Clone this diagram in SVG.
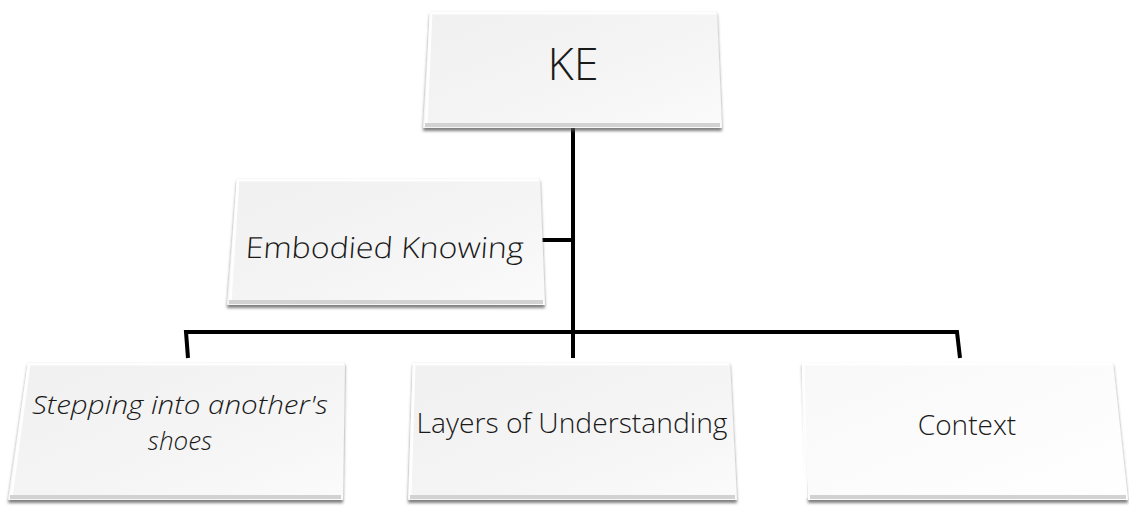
<svg xmlns="http://www.w3.org/2000/svg" width="1129" height="507" viewBox="0 0 1129 507">
<defs>
<linearGradient id="boxFill" x1="0" y1="0" x2="1" y2="1">
<stop offset="0" stop-color="#f0f0f0"/>
<stop offset="0.6" stop-color="#f5f5f5"/>
<stop offset="1" stop-color="#fbfbfb"/>
</linearGradient>
<linearGradient id="boxFillW" x1="0" y1="0" x2="1" y2="1">
<stop offset="0" stop-color="#f8f8f8"/>
<stop offset="1" stop-color="#ffffff"/>
</linearGradient>
<filter id="shadow" x="-5%" y="-5%" width="110%" height="120%">
<feDropShadow dx="0" dy="3" stdDeviation="1.6" flood-color="#555" flood-opacity="0.75"/>
</filter>
</defs>
<style>
.box{fill:url(#boxFill);filter:url(#shadow);}
.boxw{fill:url(#boxFillW);filter:url(#shadow);}
.bevel{fill:none;stroke:#ffffff;stroke-width:3;stroke-opacity:0.9;}
.bot{fill:none;stroke:#d2d2d2;stroke-width:4;}
.lbl{font-family:"Open Sans","Liberation Sans",sans-serif;font-weight:300;fill:#1a1a1a;text-anchor:middle;}
.conn{fill:none;stroke:#000;stroke-width:4;stroke-linejoin:miter;}
</style>
<rect width="1129" height="507" fill="#ffffff"/>
<g id="connectors">
<path class="conn" d="M573,128 V358"/>
<path class="conn" d="M540,240 H573"/>
<path class="conn" d="M188,358 L186,332 H957 L960,358"/>
</g>
<g id="node-ke">
<polygon class="box" points="430,11 717,11 722,128 423,128"/>
<polyline class="bevel" points="426,126 431,13 716,13"/>
<line class="bot" x1="425" y1="125" x2="720" y2="125"/>
<text class="lbl" x="573" y="80" font-size="45">KE</text>
</g>
<g id="node-embodied">
<polygon class="box" points="237,178 540,178 545,305 227,305"/>
<polyline class="bevel" points="230,303 238,180 539,180"/>
<line class="bot" x1="229" y1="302" x2="543" y2="302"/>
<text class="lbl" x="384" y="258" font-size="29" textLength="278" lengthAdjust="spacingAndGlyphs" transform="skewX(-4) translate(18,0)">Embodied Knowing</text>
</g>
<g id="node-stepping">
<polygon class="box" points="28,362 345,362 343,500 8,500"/>
<polyline class="bevel" points="11,498 29,364 344,364"/>
<line class="bot" x1="10" y1="497" x2="341" y2="497"/>
<text class="lbl" font-size="26" font-style="italic"><tspan x="180" y="414" textLength="296" lengthAdjust="spacingAndGlyphs">Stepping into another's</tspan><tspan x="180" y="450">shoes</tspan></text>
</g>
<g id="node-layers">
<polygon class="box" points="413,362 730,362 737,500 408,500"/>
<polyline class="bevel" points="410,498 414,364 729,364"/>
<line class="bot" x1="410" y1="497" x2="735" y2="497"/>
<text class="lbl" x="572" y="433" font-size="28" textLength="311" lengthAdjust="spacingAndGlyphs">Layers of Understanding</text>
</g>
<g id="node-context">
<polygon class="boxw" points="802,362 1113,362 1128,500 808,500"/>
<polyline class="bevel" points="806,498 803,364 1112,364"/>
<line class="bot" x1="810" y1="497" x2="1126" y2="497"/>
<text class="lbl" x="967" y="435" font-size="28">Context</text>
</g>
</svg>
